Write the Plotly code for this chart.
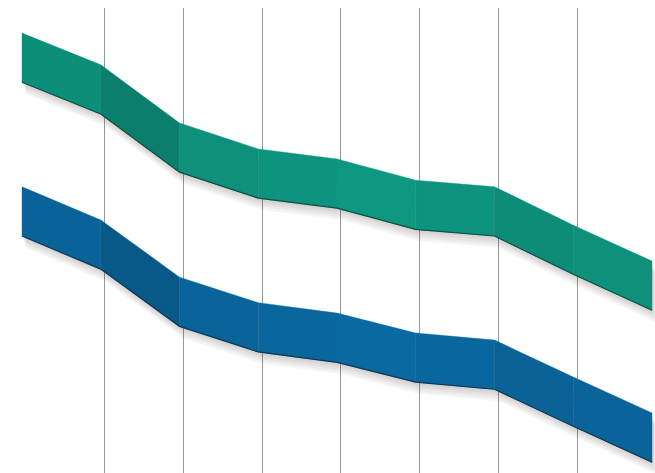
import plotly.graph_objects as go

# ---- data ----
categories = ["2010", "2011", "2012", "2013", "2014", "2015", "2016", "2017", "2018"]
green_values = [93.0, 86.3, 74.0, 68.5, 66.4, 61.9, 60.5, 52.4, 44.8]
blue_values = [60.5, 53.5, 41.4, 36.0, 33.8, 29.6, 28.1, 20.3, 12.7]

# ---- styles ----
BAND_DEPTH = 10.4
GREEN = (14, 148, 126)
BLUE = (10, 103, 158)
segment_shade = [0.96, 0.86, 0.97, 1.0, 1.02, 1.0, 0.95, 0.97]
shadow_offsets = [0.5, 1.0, 1.5, 2.0, 2.5]

xs = list(range(len(categories)))


def shade(rgb, f):
    return "rgb(%d,%d,%d)" % tuple(max(0, min(255, int(round(c * f)))) for c in rgb)


fig = go.Figure()

# invisible trace to carry the grid axis
fig.add_trace(go.Scatter(x=[], y=[], xaxis="x2", showlegend=False, hoverinfo="skip"))


def add_band(values, rgb):
    tops = values
    bots = [v - BAND_DEPTH for v in values]
    # soft shadow
    for off in shadow_offsets:
        px = xs + xs[::-1] + [xs[0]]
        py = [t - off for t in tops] + [b - off for b in bots[::-1]] + [tops[0] - off]
        fig.add_trace(go.Scatter(
            x=[p + off * 0.02 for p in px], y=py, mode="lines", fill="toself",
            fillcolor="rgba(70,50,50,0.05)", line=dict(width=0),
            showlegend=False, hoverinfo="skip"))
    # segments
    for i in range(len(xs) - 1):
        col = shade(rgb, segment_shade[i])
        fig.add_trace(go.Scatter(
            x=[xs[i], xs[i + 1], xs[i + 1], xs[i], xs[i]],
            y=[tops[i], tops[i + 1], bots[i + 1], bots[i], tops[i]],
            mode="lines", fill="toself", fillcolor=col,
            line=dict(color=col, width=0.4),
            showlegend=False, hoverinfo="skip"))
    # darker lower edge
    fig.add_trace(go.Scatter(
        x=xs, y=bots, mode="lines",
        line=dict(color=shade(rgb, 0.55), width=1.2),
        showlegend=False, hoverinfo="skip"))


add_band(green_values, GREEN)
add_band(blue_values, BLUE)

x_lo, x_hi = -0.2794, 8.038
grid_shift = 0.05

fig.update_layout(
    width=655, height=473,
    margin=dict(l=0, r=0, t=8, b=0),
    paper_bgcolor="white", plot_bgcolor="white",
    showlegend=False,
    xaxis=dict(range=[x_lo, x_hi], showgrid=False, zeroline=False,
               showticklabels=False, showline=False, ticks=""),
    xaxis2=dict(overlaying="x", range=[x_lo - grid_shift, x_hi - grid_shift],
                tickvals=[1, 2, 3, 4, 5, 6, 7], showgrid=True,
                gridcolor="#969696", gridwidth=1.3, zeroline=False,
                showticklabels=False, showline=False, ticks=""),
    yaxis=dict(range=[0, 98.3], showgrid=False, zeroline=False,
               showticklabels=False, showline=False, ticks=""),
)

fig.write_html("out.html")
